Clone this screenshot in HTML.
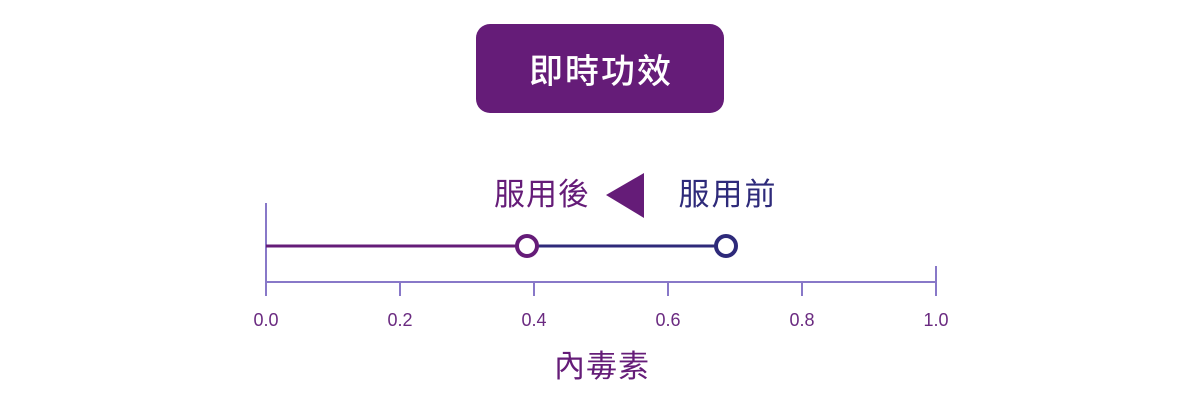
<!DOCTYPE html>
<html><head><meta charset="utf-8"><style>
body{margin:0;background:#fff;width:1200px;height:400px;overflow:hidden}
</style></head><body>
<svg width="1200" height="400" xmlns="http://www.w3.org/2000/svg" font-family="'Liberation Sans','Noto Sans CJK TC',sans-serif">
<rect x="476" y="24" width="248" height="89" rx="14" fill="#651c78"/>
<text x="601" y="83" text-anchor="middle" font-size="34" letter-spacing="2" fill="#fff" font-weight="500">即時功效</text>
<text x="542" y="205" text-anchor="middle" font-size="31" letter-spacing="1" fill="#651c78">服用後</text>
<text x="728" y="205" text-anchor="middle" font-size="31" letter-spacing="2" fill="#2e2a7a">服用前</text>
<polygon points="606,195 644,173 644,218" fill="#651c78"/>
<g stroke="#8878c8" stroke-width="2" fill="none">
<line x1="266" y1="203" x2="266" y2="296"/>
<line x1="266" y1="282" x2="936" y2="282"/>
<line x1="936" y1="266" x2="936" y2="296"/>
<line x1="400" y1="282" x2="400" y2="296"/>
<line x1="534" y1="282" x2="534" y2="296"/>
<line x1="668" y1="282" x2="668" y2="296"/>
<line x1="802" y1="282" x2="802" y2="296"/>
</g>
<line x1="266" y1="246" x2="527" y2="246" stroke="#651c78" stroke-width="3"/>
<line x1="527" y1="246" x2="726" y2="246" stroke="#2e2a7a" stroke-width="3"/>
<circle cx="527" cy="246" r="10" fill="#fff" stroke="#651c78" stroke-width="4"/>
<circle cx="726" cy="246" r="10" fill="#fff" stroke="#2e2a7a" stroke-width="4"/>
<g font-size="18" fill="#6a2a80" text-anchor="middle">
<text x="266" y="326">0.0</text><text x="400" y="326">0.2</text><text x="534" y="326">0.4</text>
<text x="668" y="326">0.6</text><text x="802" y="326">0.8</text><text x="936" y="326">1.0</text>
</g>
<text x="602" y="377" text-anchor="middle" font-size="31" letter-spacing="1" fill="#651c78">內毒素</text>
</svg>
</body></html>
